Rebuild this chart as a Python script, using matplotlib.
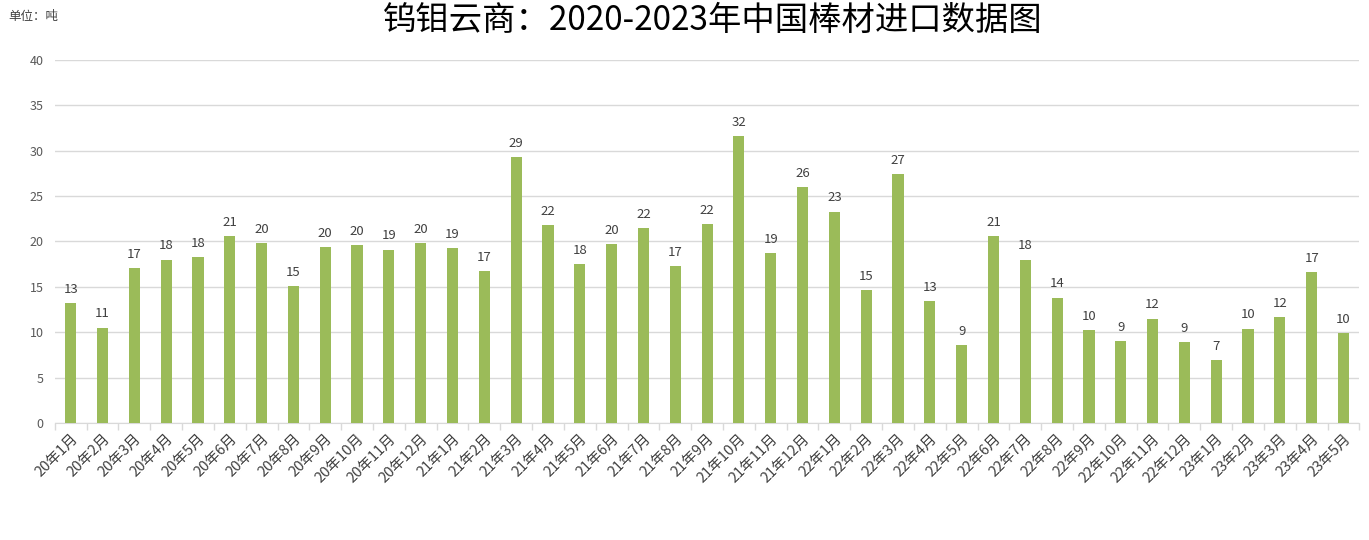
import matplotlib
matplotlib.use("Agg")
import matplotlib.pyplot as plt
import numpy as np

plt.rcParams['font.family'] = ['Noto Sans CJK SC', 'DejaVu Sans']

months = ["20年1月", "20年2月", "20年3月", "20年4月", "20年5月", "20年6月", "20年7月", "20年8月",
          "20年9月", "20年10月", "20年11月", "20年12月", "21年1月", "21年2月", "21年3月", "21年4月",
          "21年5月", "21年6月", "21年7月", "21年8月", "21年9月", "21年10月", "21年11月", "21年12月",
          "22年1月", "22年2月", "22年3月", "22年4月", "22年5月", "22年6月", "22年7月", "22年8月",
          "22年9月", "22年10月", "22年11月", "22年12月", "23年1月", "23年2月", "23年3月", "23年4月",
          "23年5月"]
values = [13.2, 10.5, 17.1, 18.0, 18.3, 20.6, 19.8, 15.1, 19.4, 19.6, 19.1, 19.8, 19.3, 16.7,
          29.3, 21.8, 17.5, 19.7, 21.5, 17.3, 21.9, 31.6, 18.7, 26.0, 23.3, 14.6, 27.4, 13.4,
          8.6, 20.6, 18.0, 13.8, 10.2, 9.0, 11.5, 8.9, 6.9, 10.4, 11.7, 16.6, 9.9]
labels = ["13", "11", "17", "18", "18", "21", "20", "15", "20", "20", "19", "20", "19", "17",
          "29", "22", "18", "20", "22", "17", "22", "32", "19", "26", "23", "15", "27", "13",
          "9", "21", "18", "14", "10", "9", "12", "9", "7", "10", "12", "17", "10"]
yticks = [0, 5, 10, 15, 20, 25, 30, 35, 40]

fig = plt.figure(figsize=(13.69, 5.40), dpi=100)
ax = fig.add_axes([0.040, 0.2167, 0.953, 0.6723])

x = np.arange(len(months))
bars = ax.bar(x, values, width=0.35, color='#9BBB59', zorder=3)
for xi, v, lab in zip(x, values, labels):
    ax.text(xi, v + 0.8, lab, ha='center', va='bottom', fontsize=9.5, color='#404040')

ax.set_xlim(-0.5, len(months) - 0.5)
ax.set_ylim(0, 40)
ax.set_yticks(yticks)
ax.set_yticklabels([str(t) for t in yticks], fontsize=9, color='#595959')
ax.yaxis.grid(True, color='#D9D9D9', linewidth=1, zorder=0)
ax.tick_params(axis='y', length=0, pad=8)

ax.set_xticks(x)
ax.set_xticklabels(months, rotation=45, ha='right', rotation_mode='anchor', fontsize=10.5, color='#404040')
ax.set_xticks(np.arange(-0.5, len(months), 1), minor=True)
ax.tick_params(axis='x', which='major', length=0, pad=6)
ax.tick_params(axis='x', which='minor', length=5, color='#D9D9D9', width=1)

for s in ['top', 'right', 'left']:
    ax.spines[s].set_visible(False)
ax.spines['bottom'].set_color('#D9D9D9')

fig.text(0.521, 0.962, "钨钼云商：2020-2023年中国棒材进口数据图", ha='center', va='center',
         fontsize=24, color='#000000')
fig.text(0.006, 0.970, "单位：吨", ha='left', va='center', fontsize=9, color='#404040')

fig.savefig("out.png", dpi=100)
